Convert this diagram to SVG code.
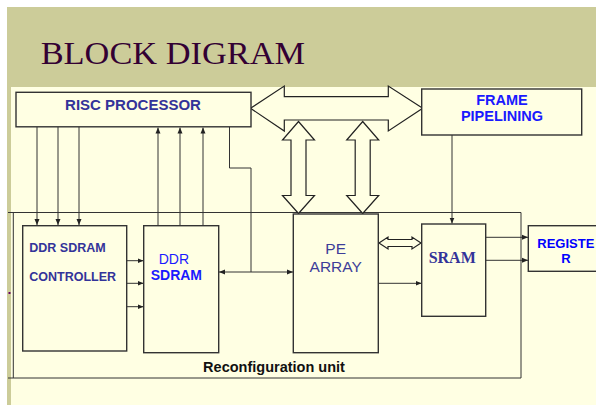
<svg xmlns="http://www.w3.org/2000/svg" width="596" height="405" viewBox="0 0 596 405">
<style>
.box{fill:#FFFFE3;stroke:#333333;stroke-width:1.4}
.ln{fill:none;stroke:#333333;stroke-width:1}
.big{fill:#FFFFE3;stroke:#222222;stroke-width:1.2;stroke-linejoin:miter}
.t{font-family:"Liberation Sans",Arial,sans-serif;font-weight:bold}
</style>
<defs>
<marker id="ah" markerUnits="userSpaceOnUse" markerWidth="6" markerHeight="6" viewBox="0 0 6 6" refX="6" refY="3" orient="auto-start-reverse">
<path d="M0,0.5 L6,3 L0,5.5 Z" fill="#222222"/>
</marker>
</defs>
<rect x="0" y="0" width="596" height="405" fill="#FFFFFF"/>
<rect x="7" y="7" width="589" height="398" fill="#FFFFE3"/>
<rect x="7" y="7" width="589" height="80" fill="#CCCC99"/>
<rect x="7" y="7" width="4" height="398" fill="#CCCC99"/>
<text transform="translate(40.7,64.3) scale(1.12,1)" x="0" y="0" font-family="'Liberation Serif','Times New Roman',serif" font-size="30.7" fill="#330033">BLOCK DIGRAM</text>

<g id="reconfiguration-unit">
<path class="ln" d="M8,212.5 H521 V378 H8 M13.3,212.5 V378" stroke-width="1.3"/>
<rect x="8.5" y="292" width="2" height="2" fill="#660066"/>
<text class="t" x="274" y="372" font-size="14.5" fill="#111111" text-anchor="middle">Reconfiguration unit</text>
</g>

<g id="connectors">
<path class="ln" d="M37,127 V225" marker-end="url(#ah)"/>
<path class="ln" d="M58,127 V225" marker-end="url(#ah)"/>
<path class="ln" d="M79,127 V225" marker-end="url(#ah)"/>
<path class="ln" d="M158,225.7 V127.5" marker-end="url(#ah)"/>
<path class="ln" d="M180,225.7 V127.5" marker-end="url(#ah)"/>
<path class="ln" d="M203,225.7 V127.5" marker-end="url(#ah)"/>
<path class="ln" d="M229.5,127 V168 H251 V272"/>
<path class="ln" d="M219,272 H293" marker-start="url(#ah)" marker-end="url(#ah)"/>
<path class="ln" d="M127,260.7 H143.5" marker-end="url(#ah)"/>
<path class="ln" d="M127,283.3 H143.5" marker-end="url(#ah)"/>
<path class="ln" d="M127,306.7 H143.5" marker-end="url(#ah)"/>
<path class="ln" d="M452,135 V223.5" marker-end="url(#ah)"/>
<path class="ln" d="M378.5,283.3 H421.5" marker-end="url(#ah)"/>
<path class="ln" d="M486,237.3 H528" marker-end="url(#ah)"/>
<path class="ln" d="M486,260.3 H528" marker-end="url(#ah)"/>
<path class="big" d="M250.5,108.3 L284.3,86 L284.3,96.7 L388.3,96.7 L388.3,86 L422.7,108.3 L388.3,131 L388.3,120 L284.3,120 L284.3,131 Z"/>
<path class="big" d="M298.5,121.5 L314.5,140 L306,140 L306,195.5 L314.5,195.5 L298.5,213.5 L282.5,195.5 L291,195.5 L291,140 L282.5,140 Z"/>
<path class="big" d="M362.7,121.5 L378.7,140 L370.2,140 L370.2,195.5 L378.7,195.5 L362.7,213.5 L346.7,195.5 L355.2,195.5 L355.2,140 L346.7,140 Z"/>
<path class="big" d="M379,243 L388,237 L388,239.5 L412,239.5 L412,237 L421,243 L412,249 L412,246.5 L388,246.5 L388,249 Z"/>
</g>

<g id="risc-processor">
<rect class="box" x="16" y="92.3" width="235" height="34.5"/>
<text class="t" x="133" y="110" font-size="15" fill="#333399" text-anchor="middle">RISC PROCESSOR</text>
</g>

<g id="frame-pipelining">
<rect class="box" x="421.7" y="89" width="160" height="46"/>
<text class="t" x="502" y="105" font-size="14.5" fill="#1A1AFF" text-anchor="middle">FRAME</text>
<text class="t" x="502" y="120.7" font-size="14.5" fill="#1A1AFF" text-anchor="middle">PIPELINING</text>
</g>

<g id="ddr-sdram-controller">
<rect class="box" x="22.7" y="225.7" width="104" height="125.3"/>
<text class="t" x="29.3" y="252" font-size="12.5" fill="#333399">DDR SDRAM</text>
<text class="t" x="29.3" y="281" font-size="12.5" fill="#333399">CONTROLLER</text>
</g>

<g id="ddr-sdram">
<rect class="box" x="143.7" y="225.7" width="75" height="127"/>
<text x="158.7" y="264" font-family="'Liberation Sans',Arial,sans-serif" font-size="14" fill="#1A1AFF">DDR</text>
<text class="t" x="150.7" y="280" font-size="14" fill="#1A1AFF">SDRAM</text>
</g>

<g id="pe-array">
<rect class="box" x="293.3" y="214" width="85" height="138.7"/>
<text x="335.7" y="254" font-family="'Liberation Sans',Arial,sans-serif" font-size="15.5" fill="#3D3D99" text-anchor="middle">PE</text>
<text x="335.7" y="271.7" font-family="'Liberation Sans',Arial,sans-serif" font-size="15.5" fill="#3D3D99" text-anchor="middle">ARRAY</text>
</g>

<g id="sram">
<rect class="box" x="421.7" y="224" width="64" height="92.3"/>
<text x="452.2" y="263.3" font-family="'Liberation Serif','Times New Roman',serif" font-weight="bold" font-size="16" fill="#333399" text-anchor="middle">SRAM</text>
</g>

<g id="register">
<rect class="box" x="528.3" y="225.7" width="80" height="45.6"/>
<text class="t" x="537.3" y="248.3" font-size="13" fill="#0000FF">REGISTE</text>
<text class="t" x="566" y="262.7" font-size="13" fill="#0000FF" text-anchor="middle">R</text>
</g>
</svg>
